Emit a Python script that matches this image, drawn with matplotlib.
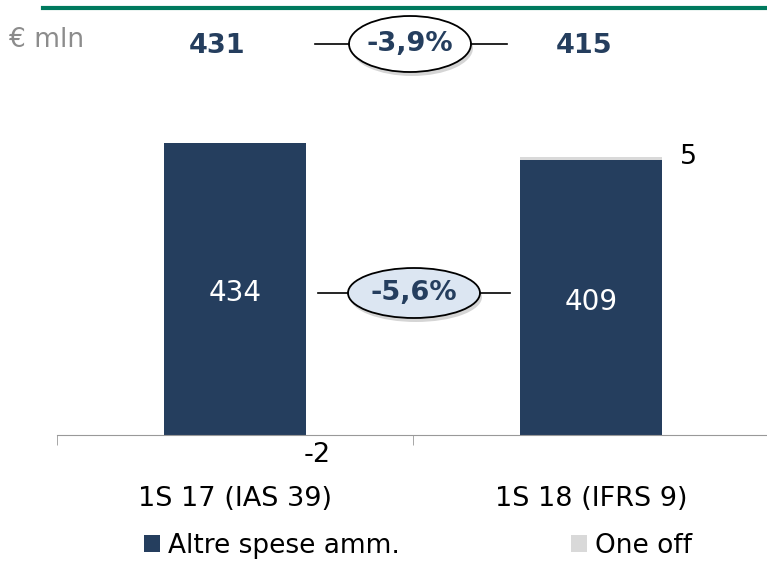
import numpy as np
import matplotlib.pyplot as plt
from matplotlib.patches import Ellipse

plt.rcParams['font.family'] = ['DejaVu Sans']

categories = ['1S 17 (IAS 39)', '1S 18 (IFRS 9)']
altre_spese = [434, 409]
one_off = [-2, 5]
totals = [431, 415]
var_totale = '-3,9%'
var_altre = '-5,6%'
legend_labels = ['Altre spese amm.', 'One off']

navy = '#253e5e'
grey_off = '#d9d9d9'
W, H = 767, 561

fig = plt.figure(figsize=(W / 100, H / 100), dpi=100)
ax = fig.add_axes([57 / W, (H - 435) / H, 712 / W, 336 / H])

x = np.arange(len(categories))
altre = np.array(altre_spese)
off = np.array(one_off)
ax.bar(x, altre, width=0.4, color=navy, label=legend_labels[0])
ax.bar(x, off, width=0.4, bottom=np.where(off > 0, altre, 0), color=grey_off,
       label=legend_labels[1])

ax.set_xlim(-0.5, 1.5)
ax.set_ylim(0, 500)
for s in ['top', 'right', 'left']:
    ax.spines[s].set_visible(False)
ax.spines['bottom'].set_color('#999999')
ax.set_yticks([])
ax.set_xticks(x)
ax.set_xticklabels(categories, fontsize=19.5)
ax.tick_params(axis='x', which='major', length=0, pad=37)
ax.set_xticks([-0.5, 0.5, 1.5], minor=True)
ax.tick_params(axis='x', which='minor', length=7, color='#999999')

# values inside bars
for xi, v in zip(x, altre):
    ax.text(xi, v / 2 - 6, str(v), color='white', fontsize=20, ha='center', va='center')

# one off labels
for xi, v, a in zip(x, off, altre):
    if v > 0:
        ax.text(xi + 0.25, a + v, str(v), fontsize=19.5, ha='left', va='center')
    else:
        ax.text(xi + 0.23, -10, str(v), fontsize=19.5, ha='center', va='top')


def fx(px):
    return px / W


def fy(py):
    return 1 - py / H


# top line and header
fig.add_artist(plt.Line2D([fx(43), fx(767)], [fy(8), fy(8)], color='#007a5e', lw=3))
fig.text(fx(9), fy(40), '€ mln', fontsize=19, color='#8c8c8c', va='center', ha='left')
for px, t in zip([217, 584], totals):
    fig.text(fx(px), fy(46), str(t), fontsize=19.5, fontweight='bold', color=navy,
             ha='center', va='center')


def bubble(cx, cy, w, h, txt, fill, l1, l2):
    fig.add_artist(plt.Line2D([fx(l1), fx(cx - w / 2)], [fy(cy), fy(cy)], color='black', lw=1.2))
    fig.add_artist(plt.Line2D([fx(cx + w / 2), fx(l2)], [fy(cy), fy(cy)], color='black', lw=1.2))
    fig.add_artist(Ellipse((fx(cx + 2), fy(cy + 4)), w / W, h / H, transform=fig.transFigure,
                           facecolor='#888888', edgecolor='none', alpha=0.35))
    fig.add_artist(Ellipse((fx(cx), fy(cy)), w / W, h / H, transform=fig.transFigure,
                           facecolor=fill, edgecolor='black', lw=1.3))
    fig.text(fx(cx), fy(cy), txt, fontsize=19.5, fontweight='bold', color=navy,
             ha='center', va='center')


bubble(410, 44, 122, 56, var_totale, 'white', 315, 507)
bubble(414, 293, 132, 50, var_altre, '#dce6f2', 318, 510)

# legend
h, l = ax.get_legend_handles_labels()
fig.legend(h, l, loc='center', bbox_to_anchor=(fx(418), fy(546)), ncol=2, frameon=False,
           fontsize=19, handlelength=0.6, handleheight=0.6, handletextpad=0.3,
           columnspacing=6.5)

fig.savefig('out.png', dpi=100)
